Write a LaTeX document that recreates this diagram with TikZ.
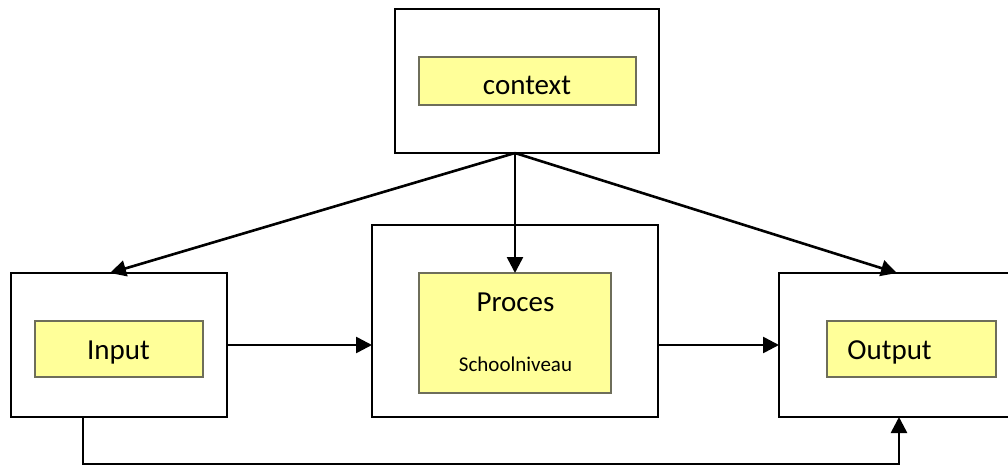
\documentclass[tikz,border=0pt]{standalone}
\usepackage{fontspec}
\setmainfont{Carlito}
\usetikzlibrary{arrows.meta,calc}
\definecolor{boxyellow}{HTML}{FFFF99}
\definecolor{innerline}{HTML}{6E6E5A}
\tikzset{
  outerbox/.style={draw=black, line width=1.4pt, fill=white, inner sep=0pt, outer sep=0pt},
  innerbox/.style={draw=innerline, line width=0.6pt, fill=boxyellow, inner sep=0pt, outer sep=0pt},
  lbl/.style={font=\fontsize{14.5}{17}\selectfont, inner sep=0pt, anchor=base},
  small/.style={font=\fontsize{10.5}{12}\selectfont, inner sep=0pt, anchor=base},
  conn/.style={line width=1.3pt, -{Triangle[length=8pt,width=8pt]}},
}
\begin{document}
\begin{tikzpicture}[x=0.5pt,y=-0.5pt]
\path[use as bounding box, clip] (0,0) rectangle (1008,466);
% outer boxes
\node[outerbox, minimum width=132pt, minimum height=72pt] (ctx) at (527,81) {};
\node[outerbox, minimum width=108pt, minimum height=72pt] (in) at (119,345) {};
\node[outerbox, minimum width=143pt, minimum height=96pt] (pr) at (515,321) {};
\node[outerbox, minimum width=130.5pt, minimum height=72pt] (out) at (909.5,345) {};
% inner boxes
\node[innerbox, minimum width=108.5pt, minimum height=24pt] (ctxi) at (527.5,81) {};
\node[innerbox, minimum width=84pt, minimum height=28pt] (ini) at (119,349) {};
\node[innerbox, minimum width=96pt, minimum height=60pt] (pri) at (515,333) {};
\node[innerbox, minimum width=84.5pt, minimum height=28pt] (outi) at (911.5,349) {};
% texts
\node[lbl] (ctxt) at (527,94) {context};
\node[lbl] (int) at (118.5,359) {Input};
\node[lbl] (prt) at (515.5,311) {Proces};
\node[small] (prs) at (515.5,371) {Schoolniveau};
\node[lbl, anchor=base west] (outt) at (847,359) {Output};
% connectors
\coordinate (src) at ([xshift=-6pt]ctx.south);
\draw[conn] (src) -- ([xshift=-4.5pt]in.north);
\draw[conn] (src) -- (src |- pri.north);
\draw[conn] (src) -- ([xshift=59pt]out.north west);
\draw[conn] (in.east) -- (in.east -| pr.west);
\draw[conn] (pr.east |- out.west) -- (out.west);
\coordinate (b1) at ([xshift=-18pt]in.south);
\coordinate (b2) at ([xshift=60pt]out.south west);
\draw[conn] (b1) -- ++(0,47) -| (b2);
\end{tikzpicture}
\end{document}
